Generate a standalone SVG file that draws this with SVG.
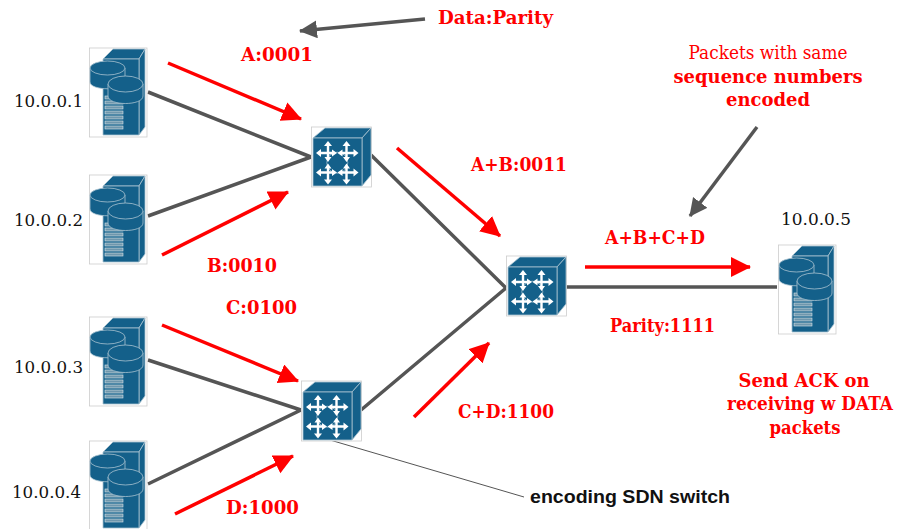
<svg xmlns="http://www.w3.org/2000/svg" xmlns:xlink="http://www.w3.org/1999/xlink" width="899" height="529" viewBox="0 0 899 529">
<style>
text{font-family:"DejaVu Serif","Liberation Serif",serif}
.lab{font-size:18px;font-weight:bold;fill:#f00;text-anchor:middle}
.note{font-size:18px;fill:#f00;text-anchor:middle}
.noteb{font-size:19px;font-weight:bold;fill:#f00;text-anchor:middle}
.ip{font-size:17px;fill:#111}
.link{stroke:#555;stroke-width:3.500;fill:none}
.red{stroke:#f00;stroke-width:3.500;fill:none;marker-end:url(#rh)}
.gr{stroke:#555;stroke-width:3.500;fill:none;marker-end:url(#gh)}
.b{fill:#14608a;stroke:#a9c3d1;stroke-width:.8}
.w{stroke:#fff;stroke-width:2.400;fill:none}
.wf{fill:#fff}
.st{fill:#6f97ad;stroke:#dbe6ec;stroke-width:.6}
</style>
<defs>
<marker id="rh" markerUnits="userSpaceOnUse" markerWidth="22" markerHeight="22" refX="19" refY="10" orient="auto"><path d="M0 0L20 10L0 20Z" fill="#f00"/></marker>
<marker id="gh" markerUnits="userSpaceOnUse" markerWidth="22" markerHeight="22" refX="17" refY="9" orient="auto"><path d="M0 0L18 9L0 18Z" fill="#555"/></marker>
<g id="server">
<rect x="9.500" y="8" width="57.500" height="89" fill="#fff" stroke="#ccc" stroke-width=".8"/>
<path class="b" d="M23 19L33 9L65 9L59 19Z"/>
<path class="b" d="M59 19L65 9L65 87L59 95Z"/>
<path class="b" d="M23 19H59V95H23Z"/>
<g class="st"><rect x="25" y="56" width="18" height="3"/><rect x="25" y="61" width="18" height="3"/><rect x="25" y="66" width="18" height="3"/><rect x="25" y="71" width="18" height="3"/><rect x="25" y="76" width="18" height="3"/><rect x="25" y="81" width="18" height="3"/><rect x="25" y="86" width="18" height="3"/></g>
<path class="b" d="M10 28V42C10 51 45 51 45 42V28Z"/>
<ellipse class="b" cx="27.500" cy="28" rx="17.500" ry="7"/>
<path class="b" d="M28 44V56C28 66 63 66 63 56V44Z"/>
<ellipse class="b" cx="45.500" cy="44" rx="17.500" ry="8"/>
</g>
<g id="arm">
<path class="w" d="M0 0L0 -8M0 0L-8 0M0 0L5 0M0 0L0 5"/>
<path class="wf" d="M-4 -7L0 -12L4 -7ZM-7 -4L-12 0L-7 4Z"/>
<path class="wf" d="M4 -3.500L9 0L4 3.500ZM-3.500 4L0 9L3.500 4Z"/>
</g>
<g id="switch">
<rect x="11.500" y="7" width="60" height="60" fill="#fff" stroke="#ccc" stroke-width=".8"/>
<path class="b" d="M13 18L25 8H71L62 18Z"/>
<path class="b" d="M62 18L71 8V55L62 66Z"/>
<path class="b" d="M13 18H62V66H13Z"/>
<circle cx="37.300" cy="42.700" r="10.500" fill="#14608a" stroke="#a9c3d1" stroke-width=".8"/>
<use xlink:href="#arm" href="#arm" x="28" y="33"/>
<use xlink:href="#arm" href="#arm" transform="translate(46.500 33) scale(-1 1)"/>
<use xlink:href="#arm" href="#arm" transform="translate(28 52.500) scale(1 -1)"/>
<use xlink:href="#arm" href="#arm" transform="translate(46.500 52.500) scale(-1 -1)"/>
</g>
</defs>
<rect width="899" height="529" fill="#fff"/>
<g id="connectors">
<path class="link" d="M148 92L311 157M148 216L311 157M371 155L506 288M148 360L301 410M148 484L301 410M361 410L506 288M566 287H777"/>
<path d="M330 440L524 497" stroke="#555" stroke-width="1" fill="none"/>
<path class="red" d="M168 63L301 119"/>
<path class="red" d="M162 255L288 192"/>
<path class="red" d="M397 148L500 236"/>
<path class="red" d="M162 325L298 381"/>
<path class="red" d="M175 514L293 456"/>
<path class="red" d="M414 417L489 343"/>
<path class="red" d="M585 267H750"/>
<path class="gr" d="M425 19L300 31"/>
<path class="gr" d="M757 127L690 216"/>
</g>
<g id="server1"><use href="#server" x="80" y="40"/><text class="ip" x="14" y="107" textLength="69" lengthAdjust="spacingAndGlyphs">10.0.0.1</text></g>
<g id="server2"><use href="#server" x="80" y="167"/><text class="ip" x="14" y="226" textLength="69" lengthAdjust="spacingAndGlyphs">10.0.0.2</text></g>
<g id="server3"><use href="#server" x="80" y="309"/><text class="ip" x="14" y="373" textLength="69" lengthAdjust="spacingAndGlyphs">10.0.0.3</text></g>
<g id="server4"><use href="#server" x="80" y="433"/><text class="ip" x="12" y="498" textLength="69" lengthAdjust="spacingAndGlyphs">10.0.0.4</text></g>
<g id="server5"><use href="#server" x="769" y="237"/><text class="ip" x="781" y="225" textLength="70" lengthAdjust="spacingAndGlyphs">10.0.0.5</text></g>
<g id="switch1"><use href="#switch" x="300" y="120"/></g>
<g id="switch2"><use href="#switch" x="495" y="249"/></g>
<g id="switch3"><use href="#switch" x="290" y="374"/></g>
<g id="labels">
<text class="lab" x="495.500" y="24" textLength="115" lengthAdjust="spacingAndGlyphs">Data:Parity</text>
<text class="lab" x="277" y="61" textLength="72" lengthAdjust="spacingAndGlyphs">A:0001</text>
<text class="lab" x="519" y="171" textLength="96" lengthAdjust="spacingAndGlyphs">A+B:0011</text>
<text class="lab" x="242" y="272" textLength="70" lengthAdjust="spacingAndGlyphs">B:0010</text>
<text class="lab" x="261.500" y="314" textLength="71" lengthAdjust="spacingAndGlyphs">C:0100</text>
<text class="lab" x="506" y="418" textLength="96" lengthAdjust="spacingAndGlyphs">C+D:1100</text>
<text class="lab" x="262.500" y="514" textLength="73" lengthAdjust="spacingAndGlyphs">D:1000</text>
<text class="lab" x="655" y="244" textLength="100" lengthAdjust="spacingAndGlyphs">A+B+C+D</text>
<text class="lab" x="662.500" y="332" textLength="105" lengthAdjust="spacingAndGlyphs">Parity:1111</text>
<text class="note" x="768" y="59" textLength="159" lengthAdjust="spacingAndGlyphs">Packets with same</text>
<text class="noteb" x="768" y="83" textLength="189" lengthAdjust="spacingAndGlyphs">sequence numbers</text>
<text class="noteb" x="768" y="106" textLength="84" lengthAdjust="spacingAndGlyphs">encoded</text>
<text class="noteb" x="804" y="387" textLength="131" lengthAdjust="spacingAndGlyphs">Send ACK on</text>
<text class="noteb" x="810" y="410" textLength="166" lengthAdjust="spacingAndGlyphs">receiving w DATA</text>
<text class="noteb" x="805" y="434" textLength="71" lengthAdjust="spacingAndGlyphs">packets</text>
<text x="530" y="503" style="font-family:'Liberation Sans',Arial,sans-serif;font-size:18px;font-weight:bold;fill:#111" textLength="200" lengthAdjust="spacingAndGlyphs">encoding SDN switch</text>
</g>
</svg>
